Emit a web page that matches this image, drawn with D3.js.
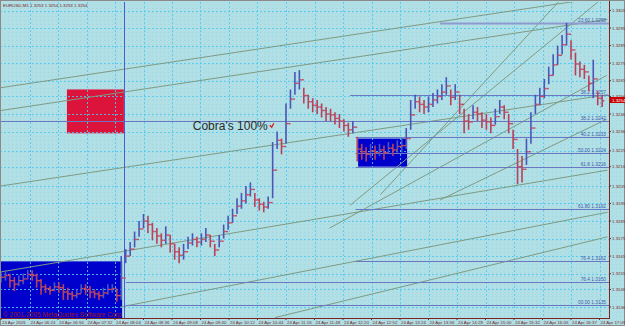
<!DOCTYPE html>
<html>
<head>
<meta charset="utf-8">
<script src="https://cdn.jsdelivr.net/npm/d3@7"></script>
<style>
  body { margin: 0; background: #b0e0e6; }
  svg text { font-family: "Liberation Sans", Arial, sans-serif; }
</style>
</head>
<body>
<script>
// EURUSD M1, 24 Apr 2005 - one sample every 5 one-minute bars
var symbolTitle = "EURUSD,M1  1.3253 1.3254 1.3253 1.3254";
var copyrightText = "\u00a9 2001-2005 MetaQuotes Software Corp.";
var barStep = 5;
var barHighs = [
  1.3156, 1.3157, 1.3155, 1.3153, 1.3154, 1.3155, 1.3157, 1.3157, 1.3155, 1.3152,
  1.3149, 1.3148, 1.3150, 1.3150, 1.3149, 1.3147, 1.3145, 1.3146, 1.3149, 1.3149,
  1.3148, 1.3146, 1.3145, 1.3147, 1.3149, 1.3149, 1.3146, 1.3165, 1.3169, 1.3173,
  1.3179, 1.3185, 1.3189, 1.3188, 1.3184, 1.3181, 1.3178, 1.3182, 1.3177, 1.3172,
  1.3170, 1.3172, 1.3176, 1.3178, 1.3176, 1.3178, 1.3181, 1.3177, 1.3172, 1.3177,
  1.3183, 1.3188, 1.3192, 1.3198, 1.3201, 1.3205, 1.3207, 1.3201, 1.3198, 1.3196,
  1.3199, 1.3230, 1.3236, 1.3232, 1.3252, 1.3260, 1.3270, 1.3271, 1.3261, 1.3257,
  1.3255, 1.3254, 1.3252, 1.3250, 1.3249, 1.3247, 1.3246, 1.3243, 1.3241, 1.3242,
  1.3233, 1.3229, 1.3227, 1.3229, 1.3228, 1.3229, 1.3228, 1.3230, 1.3229, 1.3231,
  1.3232, 1.3238, 1.3254, 1.3257, 1.3256, 1.3254, 1.3256, 1.3258, 1.3260, 1.3263,
  1.3267, 1.3260, 1.3263, 1.3257, 1.3249, 1.3246, 1.3251, 1.3250, 1.3247, 1.3246,
  1.3244, 1.3249, 1.3254, 1.3251, 1.3246, 1.3237, 1.3226, 1.3222, 1.3232, 1.3247,
  1.3257, 1.3261, 1.3266, 1.3273, 1.3280, 1.3285, 1.3291, 1.3298, 1.3288, 1.3281,
  1.3276, 1.3274, 1.3268, 1.3277, 1.3259, 1.3257
];
var barLows = [
  1.3150, 1.3151, 1.3147, 1.3145, 1.3148, 1.3149, 1.3152, 1.3151, 1.3147, 1.3143,
  1.3144, 1.3143, 1.3145, 1.3144, 1.3140, 1.3140, 1.3140, 1.3141, 1.3144, 1.3143,
  1.3141, 1.3141, 1.3140, 1.3141, 1.3143, 1.3144, 1.3139, 1.3140, 1.3161, 1.3165,
  1.3170, 1.3176, 1.3181, 1.3178, 1.3174, 1.3172, 1.3170, 1.3172, 1.3167, 1.3163,
  1.3161, 1.3163, 1.3169, 1.3171, 1.3170, 1.3171, 1.3173, 1.3170, 1.3165, 1.3170,
  1.3175, 1.3180, 1.3184, 1.3189, 1.3192, 1.3195, 1.3199, 1.3193, 1.3191, 1.3190,
  1.3192, 1.3198, 1.3226, 1.3223, 1.3229, 1.3249, 1.3257, 1.3260, 1.3252, 1.3249,
  1.3247, 1.3246, 1.3244, 1.3242, 1.3242, 1.3240, 1.3238, 1.3236, 1.3233, 1.3235,
  1.3219, 1.3220, 1.3219, 1.3221, 1.3220, 1.3222, 1.3220, 1.3223, 1.3222, 1.3224,
  1.3224, 1.3226, 1.3237, 1.3249, 1.3247, 1.3246, 1.3247, 1.3250, 1.3252, 1.3254,
  1.3257, 1.3251, 1.3254, 1.3246, 1.3235, 1.3237, 1.3243, 1.3242, 1.3238, 1.3237,
  1.3235, 1.3240, 1.3246, 1.3243, 1.3235, 1.3226, 1.3206, 1.3207, 1.3217, 1.3229,
  1.3246, 1.3251, 1.3255, 1.3263, 1.3268, 1.3274, 1.3280, 1.3285, 1.3277, 1.3268,
  1.3267, 1.3266, 1.3259, 1.3255, 1.3251, 1.3250
];
var lastPrice = 1.3254;

var timeLabels = [
  "24 Apr 2005", "24 Apr 06:24", "24 Apr 06:56", "24 Apr 07:32", "24 Apr 08:04",
  "24 Apr 08:36", "24 Apr 09:08", "24 Apr 09:40", "24 Apr 10:12", "24 Apr 10:44",
  "24 Apr 11:16", "24 Apr 11:48", "24 Apr 12:20", "24 Apr 12:52", "24 Apr 13:24",
  "24 Apr 13:56", "24 Apr 14:28", "24 Apr 15:00", "24 Apr 15:32", "24 Apr 16:05",
  "24 Apr 16:37", "24 Apr 17:09"
];
var barsPerTimeLabel = 32;
var priceTicks = [1.3305, 1.3295, 1.3285, 1.3275, 1.3265, 1.3256, 1.3246, 1.3236, 1.3225,
  1.3216, 1.3205, 1.3195, 1.3185, 1.3175, 1.3165, 1.3155, 1.3146, 1.3136];

// objects drawn on the chart (bar index, price)
var rectangles = [
  { b1: -4, b2: 136, p1: 1.3162, p2: 1.3128, color: "#0000cd" },
  { b1: 401, b2: 456, p1: 1.3232, p2: 1.3216, color: "#0000cd" },
  { b1: 74, b2: 138, p1: 1.3260, p2: 1.3235, color: "#dc143c" }
];
var verticalLineBar = 138;
var fibLevels = [
  { from: 493, price: 1.3298, label: "23.60  1.3298" },
  { from: 392, price: 1.3257, label: "38.2  1.3257" },
  { from: -4, price: 1.3242, label: "38.2  1.3242" },
  { from: 398, price: 1.3233, label: "40.2  1.3233" },
  { from: 398, price: 1.3224, label: "50.00  1.3224" },
  { from: 398, price: 1.3216, label: "61.8  1.3216" },
  { from: 398, price: 1.3192, label: "61.80  1.3192" },
  { from: 398, price: 1.3162, label: "76.4  1.3162" },
  { from: 140, price: 1.3150, label: "76.4  1.3150" },
  { from: 140, price: 1.3137, label: "00.00  1.3135" }
];
var trendLines = [
  [0, 1.3261, 681, 1.3313],
  [0, 1.3248, 681, 1.3300],
  [0, 1.3205, 681, 1.3257],
  [0, 1.3156, 681, 1.3214],
  [134, 1.3136, 681, 1.3190],
  [308, 1.3130, 681, 1.3176],
  [369, 1.3181, 680, 1.3268],
  [392, 1.3194, 673, 1.3311],
  [426, 1.3200, 628, 1.3311],
  [493, 1.3197, 680, 1.3243]
];
var noteText = "Cobra's 100%";
var noteBar = 304, notePrice = 1.3239;

var plotRight = 609, plotTop = 2, plotBottom = 318;
var fg = "#7a2424";

var svg = d3.select("body").append("svg")
  .attr("width", 625)
  .attr("height", 326);

var defs = svg.append("defs");
var pat = defs.append("pattern").attr("id", "speckle")
  .attr("width", 4).attr("height", 4).attr("patternUnits", "userSpaceOnUse");
pat.append("rect").attr("x", 0).attr("y", 0).attr("width", 1).attr("height", 1).attr("fill", "#98cad6");
defs.append("clipPath").attr("id", "plot")
  .append("rect").attr("x", 1).attr("y", plotTop).attr("width", plotRight - 1).attr("height", plotBottom - plotTop);

svg.append("rect").attr("width", 625).attr("height", 326).attr("fill", "#b0e0e6");
svg.append("rect").attr("width", 625).attr("height", 326).attr("fill", "url(#speckle)").attr("opacity", 0.5);

var x = d3.scaleLinear()
  .domain([0, barsPerTimeLabel * (timeLabels.length - 1)])
  .range([1, 1 + 28.5 * (timeLabels.length - 1)]);
var y = d3.scaleLinear().domain([1.3136, 1.3305]).range([307, 10.5]);

var plot = svg.append("g").attr("clip-path", "url(#plot)");

// rectangles
plot.selectAll("rect.obj").data(rectangles).enter().append("rect")
  .attr("class", "obj")
  .attr("x", function(d) { return x(d.b1); })
  .attr("y", function(d) { return y(d.p1); })
  .attr("width", function(d) { return x(d.b2) - x(d.b1); })
  .attr("height", function(d) { return y(d.p2) - y(d.p1); })
  .attr("fill", function(d) { return d.color; });

// grid
plot.selectAll("line.hgrid").data(priceTicks).enter().append("line")
  .attr("x1", 0).attr("x2", plotRight)
  .attr("y1", function(d) { return Math.round(y(d)) + 0.5; })
  .attr("y2", function(d) { return Math.round(y(d)) + 0.5; })
  .attr("stroke", "#4fc9f4").attr("stroke-dasharray", "2,2").attr("opacity", 0.85);
plot.selectAll("line.vgrid").data(d3.range(1, timeLabels.length)).enter().append("line")
  .attr("y1", plotTop).attr("y2", plotBottom)
  .attr("x1", function(d) { return Math.round(x(d * barsPerTimeLabel)) + 0.5; })
  .attr("x2", function(d) { return Math.round(x(d * barsPerTimeLabel)) + 0.5; })
  .attr("stroke", "#4fc9f4").attr("stroke-dasharray", "2,2").attr("opacity", 0.85);

// trend lines
plot.selectAll("line.trend").data(trendLines).enter().append("line")
  .attr("x1", function(d) { return x(d[0]); })
  .attr("y1", function(d) { return y(d[1]); })
  .attr("x2", function(d) { return x(d[2]); })
  .attr("y2", function(d) { return y(d[3]); })
  .attr("stroke", "#7f9a82").attr("stroke-width", 1);

// fibo levels
plot.selectAll("line.fib").data(fibLevels).enter().append("line")
  .attr("x1", function(d) { return x(d.from); }).attr("x2", plotRight)
  .attr("y1", function(d) { return Math.round(y(d.price)) + 0.5; })
  .attr("y2", function(d) { return Math.round(y(d.price)) + 0.5; })
  .attr("stroke", function(d, i) { return i == 0 ? "#8d9ad0" : "#6a78c4"; })
  .attr("stroke-width", function(d, i) { return i == 0 ? 2 : 1; });
plot.selectAll("text.fib").data(fibLevels).enter().append("text")
  .attr("x", plotRight - 3)
  .attr("y", function(d) { return Math.round(y(d.price)) - 1.5; })
  .attr("text-anchor", "end")
  .attr("font-size", 4.8).attr("fill", "#4a5aa8")
  .text(function(d) { return d.label; });

// vertical line
plot.append("line")
  .attr("x1", Math.round(x(verticalLineBar)) + 0.5).attr("x2", Math.round(x(verticalLineBar)) + 0.5)
  .attr("y1", plotTop).attr("y2", plotBottom)
  .attr("stroke", "#4b5bd0");

// bars
var bars = barHighs.map(function(h, i) {
  var mid = (h + barLows[i]) / 2;
  var prev = i > 0 ? (barHighs[i - 1] + barLows[i - 1]) / 2 : mid;
  return { i: i, high: h, low: barLows[i], open: prev, close: mid };
});
var barG = plot.selectAll("g.bar").data(bars).enter().append("g");
barG.append("line")
  .attr("x1", function(d) { return x(d.i * barStep); })
  .attr("x2", function(d) { return x(d.i * barStep); })
  .attr("y1", function(d) { return y(d.high); })
  .attr("y2", function(d) { return y(d.low); })
  .attr("stroke", function(d) { return d.close >= d.open ? "#4a55b8" : "#b8405a"; })
  .attr("stroke-width", 1.6);
barG.append("line")
  .attr("x1", function(d) { return x(d.i * barStep) - 2.2; })
  .attr("x2", function(d) { return x(d.i * barStep); })
  .attr("y1", function(d) { return y(d.open); })
  .attr("y2", function(d) { return y(d.open); })
  .attr("stroke", "#c24a62").attr("stroke-width", 1.4);
barG.append("line")
  .attr("x1", function(d) { return x(d.i * barStep); })
  .attr("x2", function(d) { return x(d.i * barStep) + 2.2; })
  .attr("y1", function(d) { return y(d.close); })
  .attr("y2", function(d) { return y(d.close); })
  .attr("stroke", "#c24a62").attr("stroke-width", 1.4);

// note
plot.append("text")
  .attr("x", x(noteBar) - 4).attr("y", y(notePrice) + 4)
  .attr("text-anchor", "end").attr("font-size", 12).attr("fill", "#2a2a2a")
  .text(noteText);
plot.append("path")
  .attr("d", "M" + (x(noteBar) - 2) + "," + (y(notePrice) - 1) + "l2,2l2,-4")
  .attr("fill", "none").attr("stroke", "#e01010").attr("stroke-width", 1.2);

plot.append("text")
  .attr("x", 3).attr("y", plotBottom - 1)
  .attr("font-size", 6.5).attr("fill", "#a01818")
  .text(copyrightText);

// axes
svg.append("line").attr("x1", plotRight + 0.5).attr("x2", plotRight + 0.5)
  .attr("y1", 0).attr("y2", plotBottom).attr("stroke", fg);
svg.append("line").attr("x1", 0).attr("x2", plotRight + 1)
  .attr("y1", plotBottom + 0.5).attr("y2", plotBottom + 0.5).attr("stroke", fg);
svg.append("rect").attr("x", 0.5).attr("y", 0.5).attr("width", 624).attr("height", 325)
  .attr("fill", "none").attr("stroke", "#8a8a8a");

svg.selectAll("text.ptick").data(priceTicks).enter().append("text")
  .attr("x", plotRight + 3)
  .attr("y", function(d) { return y(d) + 1.6; })
  .attr("font-size", 4.4).attr("fill", fg)
  .text(function(d) { return d.toFixed(4); });
svg.selectAll("line.ptick").data(priceTicks).enter().append("line")
  .attr("x1", plotRight).attr("x2", plotRight + 2)
  .attr("y1", function(d) { return y(d); }).attr("y2", function(d) { return y(d); })
  .attr("stroke", fg);

svg.append("rect").attr("x", plotRight + 1).attr("y", y(lastPrice) - 3)
  .attr("width", 15).attr("height", 6).attr("fill", "#c80000");
svg.append("text").attr("x", plotRight + 3).attr("y", y(lastPrice) + 1.6)
  .attr("font-size", 4.4).attr("fill", "#ffffff").text(lastPrice.toFixed(4));

svg.selectAll("text.ttick").data(timeLabels).enter().append("text")
  .attr("x", function(d, i) { return x(i * barsPerTimeLabel) + 1; })
  .attr("y", 324)
  .attr("font-size", 4.4).attr("fill", fg)
  .text(function(d) { return d; });
svg.selectAll("line.ttick").data(timeLabels).enter().append("line")
  .attr("x1", function(d, i) { return x(i * barsPerTimeLabel); })
  .attr("x2", function(d, i) { return x(i * barsPerTimeLabel); })
  .attr("y1", plotBottom).attr("y2", plotBottom + 2)
  .attr("stroke", fg);

svg.append("text").attr("x", 3).attr("y", 7)
  .attr("font-size", 4.4).attr("fill", fg)
  .text(symbolTitle);
</script>
</body>
</html>
